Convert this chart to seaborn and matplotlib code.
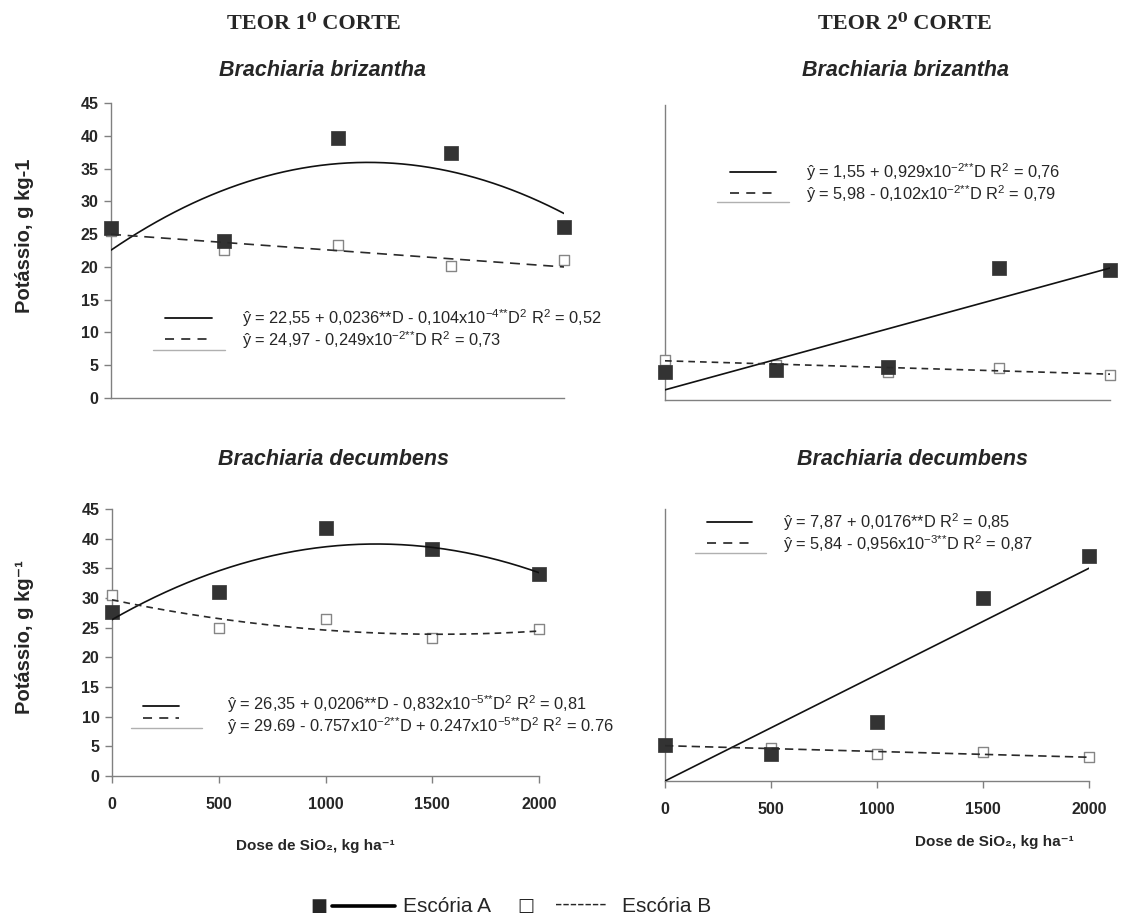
import numpy as np
import pandas as pd
import matplotlib
matplotlib.use("Agg")
import matplotlib.pyplot as plt
import seaborn as sns
from matplotlib.lines import Line2D

sns.set_theme(style="white")
plt.rcParams["font.family"] = ["Liberation Sans", "DejaVu Sans"]
plt.rcParams["mathtext.fontset"] = "custom"
plt.rcParams["mathtext.rm"] = "Liberation Sans"

# ---------------- data ----------------
doses = [0, 500, 1000, 1500, 2000]

# potassium content (g/kg) for the two slags
c1_briz_A = [26.0, 23.9, 39.7, 37.4, 26.1]
c1_briz_B = [25.4, 22.5, 23.3, 20.1, 21.0]
c2_briz_A = [4.3, 4.6, 5.0, 20.2, 19.8]
c2_briz_B = [6.1, 5.3, 4.3, 4.9, 3.8]
c1_dec_A = [27.7, 31.0, 41.8, 38.2, 34.1]
c1_dec_B = [30.5, 25.0, 26.5, 23.3, 24.8]
c2_dec_A = [6.0, 4.4, 9.8, 30.2, 37.2]
c2_dec_B = [5.8, 5.5, 4.5, 4.8, 4.0]

# regression coefficients (b0, b1, b2)
c1_briz_fitA = [22.55, 0.0236, -0.104e-4]
c1_briz_fitB = [24.97, -0.249e-2, 0.0]
c2_briz_fitA = [1.55, 0.929e-2, 0.0]
c2_briz_fitB = [5.98, -0.102e-2, 0.0]
c1_dec_fitA = [26.35, 0.0206, -0.832e-5]
c1_dec_fitB = [29.69, -0.757e-2, 0.247e-5]
c2_dec_fitA = [7.87, 0.0176, 0.0]
c2_dec_fitB = [5.84, -0.956e-3, 0.0]


def sup(s):
    s = s.replace("*", "{*}")
    return r"$^{\mathregular{" + s + r"}}$"


eq_c1_briz = [
    "ŷ = 22,55 + 0,0236**D - 0,104x10" + sup("-4**") + "D" + sup("2") + " R" + sup("2") + " = 0,52",
    "ŷ = 24,97 - 0,249x10" + sup("-2**") + "D R" + sup("2") + " = 0,73",
]
eq_c2_briz = [
    "ŷ = 1,55 + 0,929x10" + sup("-2**") + "D R" + sup("2") + " = 0,76",
    "ŷ = 5,98 - 0,102x10" + sup("-2**") + "D R" + sup("2") + " = 0,79",
]
eq_c1_dec = [
    "ŷ = 26,35 + 0,0206**D - 0,832x10" + sup("-5**") + "D" + sup("2") + " R" + sup("2") + " = 0,81",
    "ŷ = 29.69 - 0.757x10" + sup("-2**") + "D + 0.247x10" + sup("-5**") + "D" + sup("2") + " R" + sup("2") + " = 0.76",
]
eq_c2_dec = [
    "ŷ = 7,87 + 0,0176**D R" + sup("2") + " = 0,85",
    "ŷ = 5,84 - 0,956x10" + sup("-3**") + "D R" + sup("2") + " = 0,87",
]

# ---------------- figure ----------------
W, H = 1121, 923
fig = plt.figure(figsize=(W / 100, H / 100), dpi=100)
fig.patch.set_facecolor("white")

FILL = "#333333"
OPEN_EDGE = "#858585"
SPINE = "#808080"


def fx(x):
    return x / W


def fy(y):
    return 1 - y / H


def add_ax(l, t, r, b):
    return fig.add_axes([l / W, 1 - b / H, (r - l) / W, (b - t) / H])


def curve(coef, through_origin=False):
    d = np.linspace(0, 2000, 200)
    b0 = 0.0 if through_origin else coef[0]
    return pd.DataFrame({"dose": d, "K": b0 + coef[1] * d + coef[2] * d ** 2})


def panel(ax, ya, yb, fa, fb, dash, origin=False):
    dfa = pd.DataFrame({"dose": doses, "K": ya})
    dfb = pd.DataFrame({"dose": doses, "K": yb})
    sns.scatterplot(data=dfb, x="dose", y="K", ax=ax, marker="s", s=62,
                    facecolor="white", edgecolor=OPEN_EDGE, linewidth=1.0,
                    zorder=3, clip_on=False)
    sns.scatterplot(data=dfa, x="dose", y="K", ax=ax, marker="s", s=95,
                    color=FILL, edgecolor=FILL, linewidth=0.5,
                    zorder=4, clip_on=False)
    sns.lineplot(data=curve(fa, origin), x="dose", y="K", ax=ax,
                 color="#111111", lw=1.2, zorder=5)
    sns.lineplot(data=curve(fb), x="dose", y="K", ax=ax,
                 color="#2a2a2a", lw=1.2, dashes=False, zorder=5,
                 linestyle=(0, dash))
    ax.set_xlim(0, 2000)
    ax.set_ylim(0, 45)
    ax.set_xlabel("")
    ax.set_ylabel("")
    for s in ["top", "right"]:
        ax.spines[s].set_visible(False)
    for s in ["left", "bottom"]:
        ax.spines[s].set_color(SPINE)
        ax.spines[s].set_linewidth(1.0)
    ax.set_facecolor("white")


def key(x1, x2, xg1, xg2, y1, y2, yg, xt, t1, t2, eqs, fs=11.8):
    fig.add_artist(Line2D([fx(x1), fx(x2)], [fy(y1)] * 2, color="#111111", lw=1.3))
    fig.add_artist(Line2D([fx(x1), fx(x2)], [fy(y2)] * 2, color="#333333", lw=1.3,
                          linestyle=(0, (5, 4))))
    fig.add_artist(Line2D([fx(xg1), fx(xg2)], [fy(yg)] * 2, color="#b0b0b0", lw=1.0))
    fig.text(fx(xt), fy(t1), eqs[0], fontsize=fs, va="center", ha="left")
    fig.text(fx(xt), fy(t2), eqs[1], fontsize=fs, va="center", ha="left")


tick_font = dict(fontsize=11.5, fontweight="bold")

# 1st cut, B. brizantha
ax1 = add_ax(111, 103, 564, 398)
panel(ax1, c1_briz_A, c1_briz_B, c1_briz_fitA, c1_briz_fitB, (6, 4))
ax1.set_xticks([])
ax1.set_yticks(range(0, 46, 5))
ax1.set_yticklabels([str(v) for v in range(0, 46, 5)], **tick_font)
ax1.tick_params(axis="y", left=True, length=5, width=1, color=SPINE, pad=4)
ax1.set_ylabel("Potássio, g kg-1", fontsize=14.5, fontweight="bold")
ax1.yaxis.set_label_coords((34 - 111) / 453, 0.55)

# 2nd cut, B. brizantha
ax2 = add_ax(665, 105, 1110, 400)
panel(ax2, c2_briz_A, c2_briz_B, c2_briz_fitA, c2_briz_fitB, (4, 3))
ax2.set_xticks([])
ax2.set_yticks([])

# 1st cut, B. decumbens
ax3 = add_ax(112, 509, 539, 776)
panel(ax3, c1_dec_A, c1_dec_B, c1_dec_fitA, c1_dec_fitB, (4, 3))
ax3.set_yticks(range(0, 46, 5))
ax3.set_yticklabels([str(v) for v in range(0, 46, 5)], **tick_font)
ax3.set_xticks(doses)
ax3.set_xticklabels([str(v) for v in doses], **tick_font)
ax3.tick_params(axis="y", left=True, length=5, width=1, color=SPINE, pad=4)
ax3.tick_params(axis="x", bottom=True, length=5, width=1, color=SPINE, pad=10)
ax3.set_ylabel("Potássio, g kg⁻¹", fontsize=14.5, fontweight="bold")
ax3.yaxis.set_label_coords((34 - 112) / 427, 0.52)

# 2nd cut, B. decumbens (solid trend drawn through the origin)
ax4 = add_ax(665, 509, 1089, 781)
panel(ax4, c2_dec_A, c2_dec_B, c2_dec_fitA, c2_dec_fitB, (5, 3), origin=True)
ax4.set_yticks([])
ax4.set_xticks(doses)
ax4.set_xticklabels([str(v) for v in doses], **tick_font)
ax4.tick_params(axis="x", bottom=True, length=5, width=1, color=SPINE, pad=10)

# regression keys
key(165, 212, 153, 225, 318, 339, 350, 242, 318, 340, eq_c1_briz)
key(730, 776, 717, 789, 172, 193, 202, 806, 172, 194, eq_c2_briz)
key(143, 179, 131, 202, 706, 718, 728, 227, 704, 726, eq_c1_dec)
key(707, 752, 695, 766, 522, 543, 553, 783, 522, 544, eq_c2_dec)

# titles
serif = ["Liberation Serif", "DejaVu Serif"]
fig.text(fx(314), fy(24), "TEOR 1⁰ CORTE", family=serif, fontweight="bold",
         fontsize=16, ha="center", va="center")
fig.text(fx(905), fy(24), "TEOR 2⁰ CORTE", family=serif, fontweight="bold",
         fontsize=16, ha="center", va="center")
sub = dict(fontsize=15.5, fontweight="bold", fontstyle="italic", ha="center", va="center")
fig.text(fx(322), fy(70), "Brachiaria brizantha", **sub)
fig.text(fx(906), fy(70), "Brachiaria brizantha", **sub)
fig.text(fx(333), fy(460), "Brachiaria decumbens", **sub)
fig.text(fx(912), fy(460), "Brachiaria decumbens", **sub)

# dose axis titles
xl = dict(fontsize=11, fontweight="bold", ha="left", va="center")
fig.text(fx(236), fy(846), "Dose de SiO₂, kg ha⁻¹", **xl)
fig.text(fx(915), fy(842), "Dose de SiO₂, kg ha⁻¹", **xl)

# slag legend
lg_y = 906
narrow = ["Liberation Sans Narrow", "Liberation Sans"]
fig.text(fx(310), fy(lg_y), "■", fontsize=13, family=["DejaVu Sans"], ha="left", va="center")
fig.add_artist(Line2D([fx(332), fx(395)], [fy(lg_y)] * 2, color="black", lw=2.6))
fig.text(fx(403), fy(lg_y), "Escória A", fontsize=15, ha="left", va="center", family=narrow)
fig.text(fx(517), fy(lg_y), "□", fontsize=13, family=["DejaVu Sans"], ha="left", va="center")
fig.text(fx(555), fy(lg_y - 1), "-------", fontsize=16, ha="left", va="center",
         family=["Liberation Sans"])
fig.text(fx(622), fy(lg_y), "Escória B", fontsize=15, ha="left", va="center", family=narrow)

fig.savefig("out.png", dpi=100, facecolor="white")
